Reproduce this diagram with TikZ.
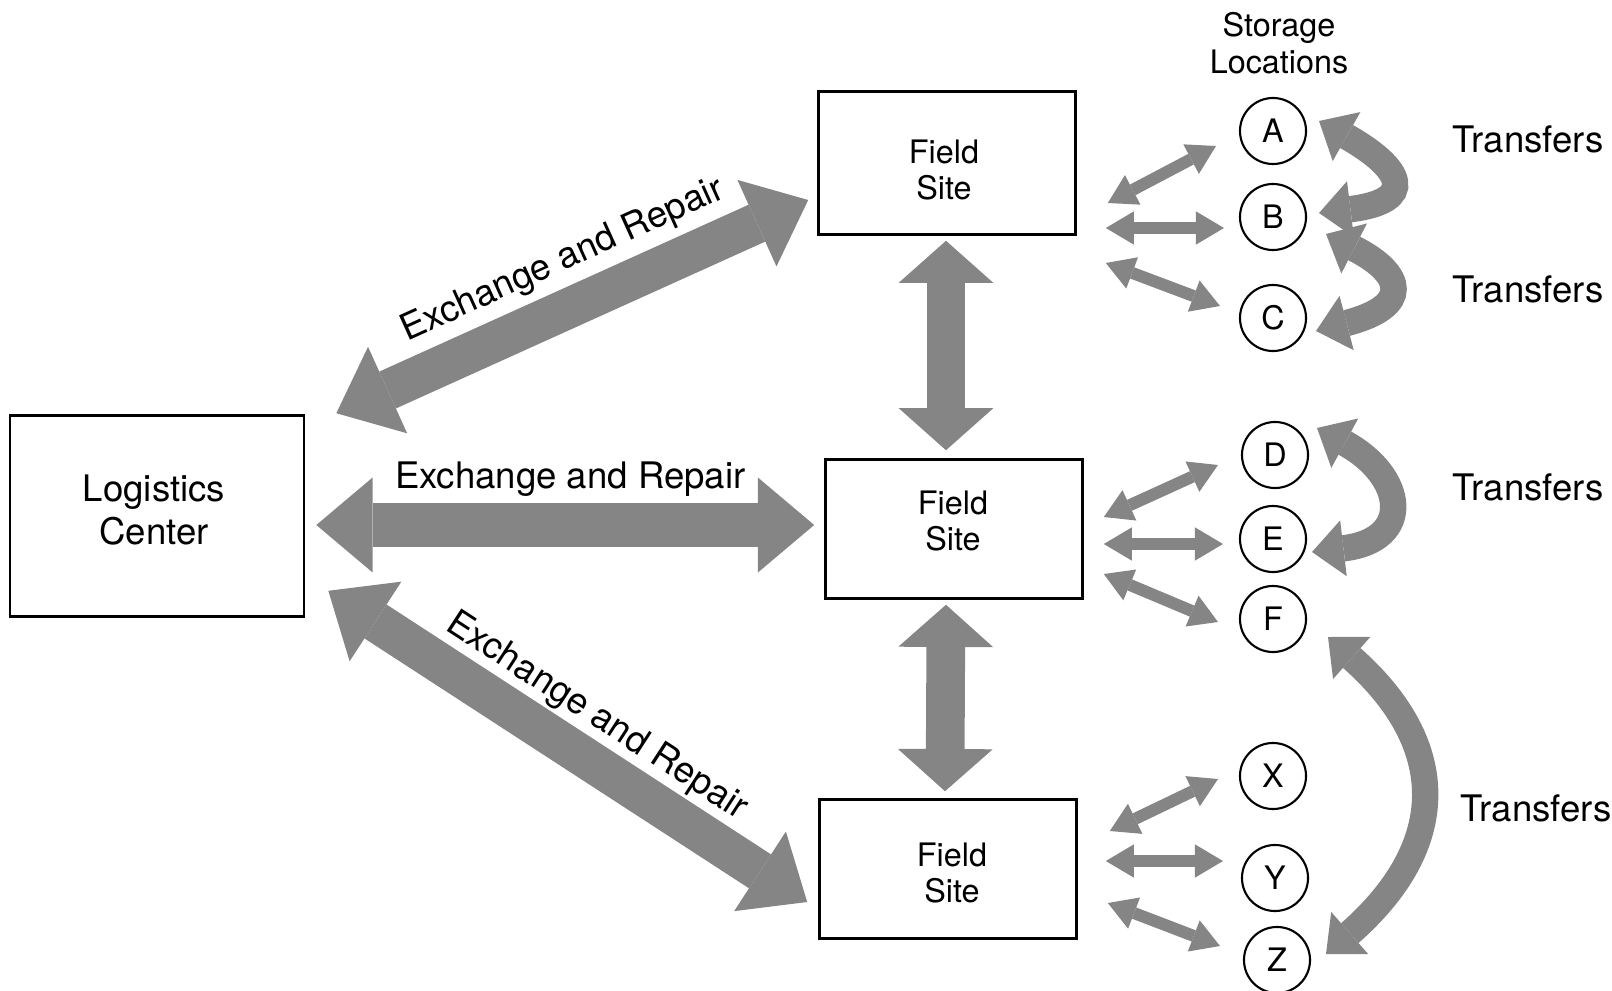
\documentclass[tikz,border=0pt]{standalone}
\usepackage{fontspec}
\setmainfont{TeX Gyre Heros}
\usetikzlibrary{arrows.meta,calc,positioning}
\definecolor{hatch}{gray}{0.52}

\begin{document}
\begin{tikzpicture}[x=0.01cm,y=-0.01cm]
    \tikzstyle{box}=[rectangle,draw,line width=0.7pt]
    \tikzstyle{site}=[box,minimum width=2.57cm,minimum height=1.39cm]
    \tikzstyle{sitetext}=[align=center,font=\fontsize{9.2}{10.5}\selectfont]
    \tikzstyle{loc}=[circle,draw,line width=0.6pt,minimum size=0.66cm,inner sep=0pt,font=\fontsize{9.2}{11}\selectfont]
    \tikzstyle{link}=[text=black,font=\fontsize{10.4}{12.5}\selectfont]

    \tikzstyle{bigarrow}=[hatch,line width=11.5pt,>={Triangle[length=16pt,width=27pt,line width=0pt]},<->]   % exchange and repair
    \tikzstyle{vertarrow}=[hatch,line width=11pt,>={Triangle[length=12pt,width=27pt,line width=0pt]},<->]    % site to site
    \tikzstyle{smallarrow}=[hatch,line width=3.4pt,>={Triangle[length=8pt,width=9.5pt,line width=0pt]},<->]  % site to storage
    \tikzstyle{turnarrow}=[hatch,line width=7.5pt,>={Triangle[length=9pt,width=16pt,line width=0pt]},<->]    % transfers

    \useasboundingbox (0,0) rectangle (1612,991);

    \node[box,minimum width=2.94cm,minimum height=2.01cm] (lc) at (157,516) {};
    \node[site,minimum height=1.43cm] (fs1) at (947,163) {};
    \node[site] (fs2) at (954,529) {};
    \node[site] (fs3) at (948,869) {};

    \node[align=center,font=\fontsize{10.4}{12.3}\selectfont] (lctext) at ($(lc)+(-3,-6)$) {Logistics\\Center};
    \node[sitetext] (fs1text) at ($(fs1)+(-3,7)$) {Field\\Site};
    \node[sitetext] (fs2text) at ($(fs2)+(-1,-8)$) {Field\\Site};
    \node[sitetext] (fs3text) at ($(fs3)+(4,4)$) {Field\\Site};

    \node[sitetext] (stor) at (1279,43) {Storage\\Locations};

    \node[loc] (A) at (1273,131) {A};
    \node[loc] (B) at (1273,217) {B};
    \node[loc] (C) at (1273,318) {C};
    \node[loc] (D) at (1275,455) {D};
    \node[loc] (E) at (1273,539) {E};
    \node[loc] (F) at (1273,619) {F};
    \node[loc] (X) at (1273,776) {X};
    \node[loc] (Y) at (1275,878) {Y};
    \node[loc] (Z) at (1277,960) {Z};

    \node[link,anchor=west,inner sep=0pt] (t1) at (1452,139) {Transfers};
    \node[link,anchor=west,inner sep=0pt] (t2) at (1452,289) {Transfers};
    \node[link,anchor=west,inner sep=0pt] (t3) at (1452,487) {Transfers};
    \node[link,anchor=west,inner sep=0pt] (t4) at (1460,808) {Transfers};

    % center to field sites
    \draw[bigarrow] ($(lc.north east)+(31,-1)$) -- node[link,sloped,above=-1pt,pos=0.52]{Exchange and Repair} ($(fs1.west)+(-9,37)$);
    \draw[bigarrow,line width=12.5pt] ($(lc.east)+(11,9)$) -- node[link,above=-1.5pt,pos=0.51]{Exchange and Repair} ($(fs2.west)+(-10,-4)$);
    \draw[bigarrow] ($(lc.south east)+(23,-27)$) -- node[link,sloped,above=-2.5pt,pos=0.514]{Exchange and Repair} ($(fs3.west)+(-11,33)$);

    \draw[vertarrow] ($(fs1.south)+(-1,5)$) -- ($(fs2.north)+(-8,-8)$);
    \draw[vertarrow] ($(fs2.south)+(-8,5)$) -- ($(fs3.north)+(-3,-7)$);

    % field sites to storage
    \draw[smallarrow] ($(fs1.east)+(31,40)$) -- ($(A)+(-57,15)$);
    \draw[smallarrow] ($(fs1.east)+(29,65)$) -- ($(B)+(-49,11)$);
    \draw[smallarrow] ($(fs1.east)+(29,100)$) -- ($(C)+(-53,-12)$);

    \draw[smallarrow] ($(fs2.east)+(20,-12)$) -- ($(D)+(-57,10)$);
    \draw[smallarrow] ($(fs2.east)+(20,15)$) -- ($(E)+(-50,5)$);
    \draw[smallarrow] ($(fs2.east)+(20,45)$) -- ($(F)+(-55,3)$);

    \draw[smallarrow] ($(fs3.east)+(32,-38)$) -- ($(X)+(-55,3)$);
    \draw[smallarrow] ($(fs3.east)+(28,-8)$) -- ($(Y)+(-52,-17)$);
    \draw[smallarrow] ($(fs3.east)+(30,34)$) -- ($(Z)+(-57,-14)$);

    % transfers
    \draw[turnarrow] ($(A)+(46,-10)$) .. controls +(85,48) and +(98,-12) .. ($(B)+(46,-4)$);
    \draw[turnarrow] ($(B)+(53,17)$) .. controls +(78,40) and +(96,-25) .. ($(C)+(43,13)$);
    \draw[turnarrow] ($(D)+(42,-27)$) .. controls +(88,48) and +(102,-12) .. ($(E)+(39,13)$);
    \draw[turnarrow] ($(F)+(55,18)$) .. controls +(122,108) and +(124,-109) .. ($(Z)+(49,-6)$);
\end{tikzpicture}
\end{document}
